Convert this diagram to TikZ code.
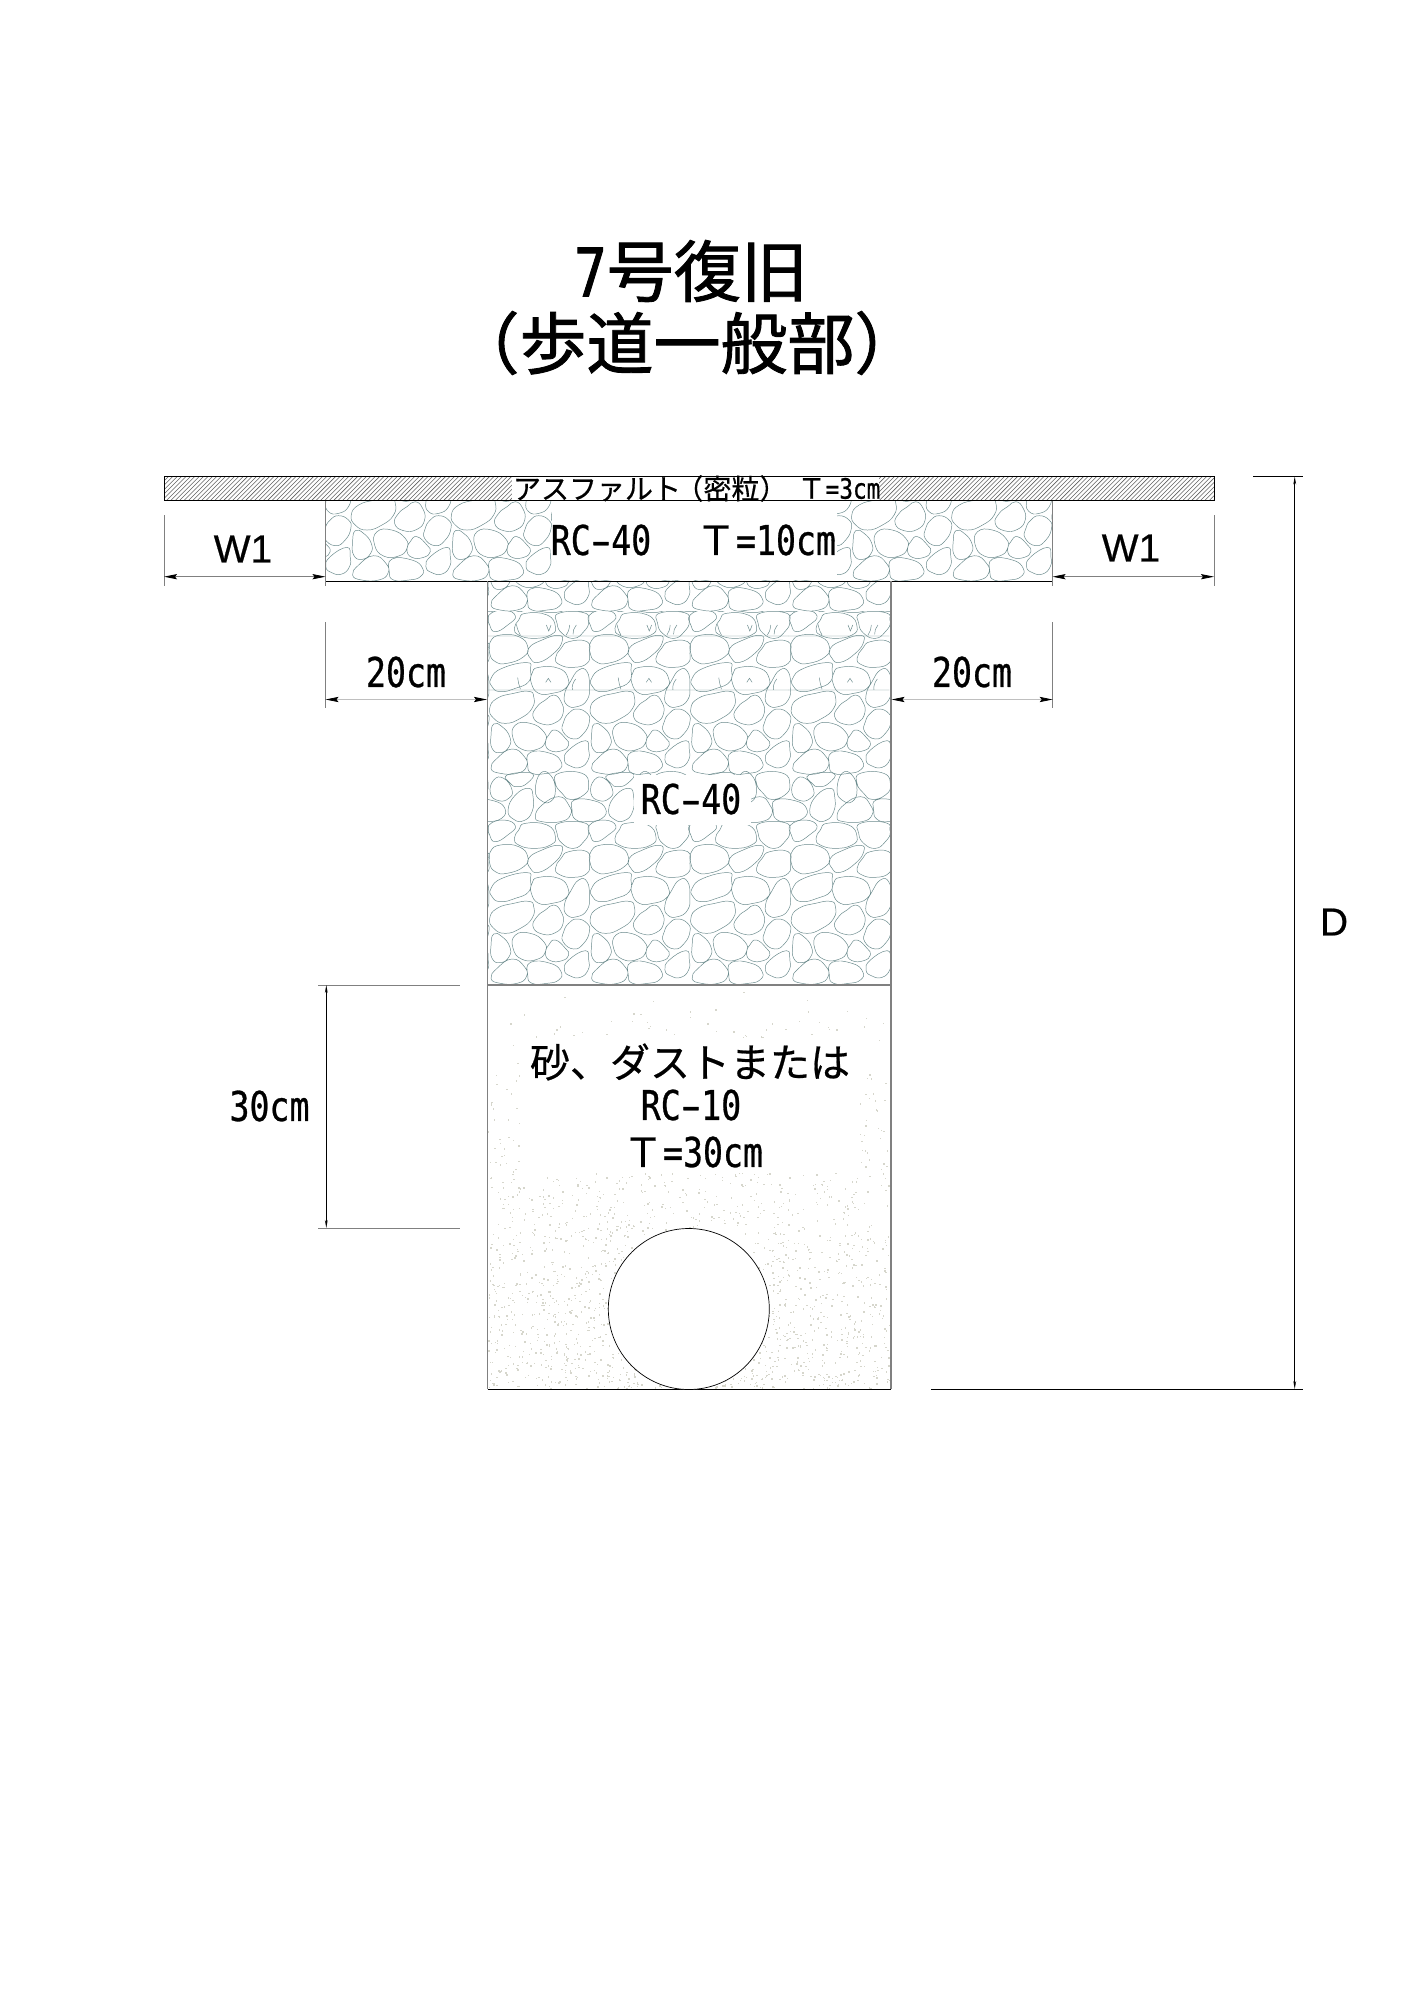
\documentclass[tikz,border=0pt]{standalone}
\usepackage{fontspec}
\usepackage{graphicx}
\usetikzlibrary{arrows.meta}
\setmainfont[FakeBold=0.5]{Noto Sans CJK JP}
\newfontfamily\jpfont[FakeBold=0.5]{Noto Sans CJK JP}
\newfontfamily\titlefont[FakeBold=1.3]{Noto Sans CJK JP}
\newfontfamily\latfont[FakeStretch=0.81,FakeBold=0.7]{DejaVu Sans Mono}
\newfontfamily\titlelat[FakeStretch=0.81,FakeBold=1.3]{DejaVu Sans Mono}
\newfontfamily\arialfont[FakeBold=0.5]{Liberation Sans}
\definecolor{rockcol}{HTML}{6A8A8C}
\definecolor{dimgray}{HTML}{808080}
\definecolor{sandcol}{HTML}{D6D6CC}
% text helpers: sizes in pt, 1 reference pixel = 0.5pt
\newcommand\sizeL{\fontsize{20.5}{24}\selectfont}
\newcommand\hy{\makebox[0.5em][c]{\scalebox{1.75}[1]{-}}}
\newcommand\rc[1]{{\latfont\sizeL RC\hy #1}}
\newcommand\fullT{{\jpfont\fontsize{20}{24}\selectfont Ｔ}}
\newcommand\rocktile{%
 \draw[rockline]
 plot[smooth cycle] coordinates {(20,492)(45,500)(68,530)(66,560)(40,578)(15,565)(12,525)}
 plot[smooth cycle] coordinates {(85,495)(130,490)(170,515)(175,545)(150,568)(105,568)(78,535)}
 plot[smooth cycle] coordinates {(205,510)(235,535)(245,555)(225,572)(190,572)(175,550)(185,525)}
 plot[smooth cycle] coordinates {(295,542)(305,570)(303,600)(280,622)(250,618)(232,600)(245,570)}
 plot[smooth cycle] coordinates {(75,567)(112,590)(118,620)(90,640)(40,640)(12,625)(30,595)}
 plot[smooth cycle] coordinates {(130,577)(190,580)(222,605)(215,630)(180,640)(135,640)(122,615)};
 \draw[rockline]
 plot[smooth cycle] coordinates {(125,394)(140,410)(135,445)(100,475)(55,490)(20,475)(8,445)(30,415)(80,400)}
 plot[smooth cycle] coordinates {(200,405)(222,425)(228,460)(205,488)(165,492)(138,470)(150,440)(175,420)}
 plot[smooth cycle] coordinates {(270,447)(300,460)(307,485)(290,520)(260,537)(228,515)(230,485)(245,460)}
 plot[smooth cycle] coordinates {(120,308)(130,330)(125,365)(85,385)(40,395)(15,380)(12,355)(45,325)}
 plot[smooth cycle] coordinates {(155,322)(215,325)(243,355)(235,385)(195,400)(155,400)(133,370)(135,340)}
 plot[smooth cycle] coordinates {(275,330)(300,335)(307,380)(300,420)(270,440)(240,435)(232,405)(250,365)};
 \draw[rockline]
 plot[smooth cycle] coordinates {(40,225)(95,230)(122,260)(110,290)(60,310)(25,305)(8,280)(10,245)}
 plot[smooth cycle] coordinates {(215,226)(225,245)(200,280)(155,307)(130,295)(125,265)(165,240)}
 plot[smooth cycle] coordinates {(245,245)(300,245)(307,280)(300,310)(260,322)(220,315)(205,295)(222,265)}
 plot[smooth cycle] coordinates {(50,150)(85,168)(62,195)(25,215)(8,195)(6,165)}
 plot[smooth cycle] coordinates {(115,160)(180,165)(205,200)(190,225)(140,235)(95,225)(82,205)(95,180)}
 plot[smooth cycle] coordinates {(215,160)(290,158)(305,185)(290,215)(260,235)(225,220)(210,190)};
 \draw[rockline]
 plot[smooth cycle] coordinates {(215,80)(245,105)(250,135)(220,155)(165,155)(145,140)(165,105)}
 plot[smooth cycle] coordinates {(262,90)(320,92)(355,115)(345,145)(300,155)(265,148)(255,120)}
 plot[smooth cycle] coordinates {(125,55)(138,80)(135,125)(110,152)(80,148)(63,120)(85,75)}
 plot[smooth cycle] coordinates {(20,30)(50,25)(75,60)(65,85)(35,92)(10,70)}
 plot[smooth cycle] coordinates {(160,10)(190,15)(205,60)(190,95)(160,90)(145,60)}
 plot[smooth cycle] coordinates {(215,10)(285,10)(305,45)(290,75)(250,88)(225,70)(205,40)}
 plot[smooth cycle] coordinates {(60,15)(135,10)(120,40)(90,50)(70,40)};}
\newcommand\tilerow[4]{% x origin, y origin, period, last index
 \foreach \tc in {0,...,#4}{%
  \pgfmathsetmacro\tx{#1+\tc*#3}%
  \begin{scope}[shift={(\tx,#2)},x=0.16667pt,y=-0.16667pt]\rocktile\end{scope}}}
\tikzset{
 rockline/.style={draw=rockcol,line width=0.24pt,tension=0.85},
 edgeline/.style={draw=black,line width=0.45pt},
 sideline/.style={draw=dimgray,line width=0.65pt},
 dimline/.style={draw=dimgray,line width=0.4pt,{Stealth[length=6.5pt,width=2.6pt,inset=1pt,black]}-{Stealth[length=6.5pt,width=2.6pt,inset=1pt,black]}},
 dimlight/.style={dimline,draw=lightgray},
 vdim/.style={draw=black,line width=0.45pt,{Stealth[length=4pt,width=1.4pt,black]}-{Stealth[length=4pt,width=1.4pt,black]}},
 extline/.style={draw=dimgray,line width=0.4pt},
 extdark/.style={draw=black,line width=0.45pt},
 mask/.style={fill=white,draw=none},
 lbl/.style={inner sep=0pt,outer sep=0pt,text=black},
}
\begin{document}
\begin{tikzpicture}[x=0.5pt,y=-0.5pt]
\useasboundingbox[fill=white] (0,0) rectangle (1414,2000);
% sand layer dots
\pgfmathsetseed{7}
\begin{scope}
 \clip (488,986) rectangle (890,1388);
 \foreach \i in {1,...,2300}{
   \pgfmathsetmacro\sx{488+402*rnd}\pgfmathsetmacro\sy{986+402*sqrt(rnd)}
   \fill[sandcol] (\sx,\sy) rectangle +(1.4,1.4);
 }
\end{scope}
% rock fill, lower column
\begin{scope}
 \clip (488,581) rectangle (891,611);
 \tilerow{386.5}{396.7}{100.55}{5}
\end{scope}
\begin{scope}
 \clip (488,611) rectangle (891,985);
 \tilerow{386.5}{560}{100.55}{5}
 \tilerow{386.5}{770}{100.55}{5}
\end{scope}
% seam lines in the upper part of the column
\begin{scope}
 \clip (488,611) rectangle (891,720);
 \foreach \tc in {0,...,3}{
  \pgfmathsetmacro\tx{487+\tc*100.55}
  \begin{scope}[shift={(\tx,575)},x=0.16667pt,y=-0.16667pt]
   \draw[rockline] (0,183)--(302,183) (0,345)--(302,345)
    (88,148) .. controls (92,165) and (95,172) .. (100,180)
    (178,150) .. controls (182,160) and (184,165) .. (185,168) .. controls (186,165) and (189,160) .. (192,150)
    (248,150) .. controls (246,165) and (244,172) .. (238,180)
    (268,150) .. controls (262,160) and (256,168) .. (258,178)
    (92,308) .. controls (94,322) and (96,332) .. (100,342)
    (176,322) .. controls (180,318) and (182,314) .. (184,310) .. controls (186,314) and (188,318) .. (192,322)
    (266,312) .. controls (258,322) and (254,334) .. (256,344);
  \end{scope}
 }
\end{scope}
% rock fill, upper layer
\begin{scope}
 \clip (326,500.5) rectangle (1052,581);
 \tilerow{248.5}{366.7}{100.1}{8}
\end{scope}
% masks behind labels
\fill[mask] (552,501) rectangle (837,580);
\fill[mask] (634,775) rectangle (751,825);
\fill[mask] (520,1038) rectangle (860,1173);
% asphalt hatch
\begin{scope}
 \clip (164.5,476.5) rectangle (1214,500.5);
 \foreach \hx in {164,168.4,...,1240}{
  \draw[draw=black!62,line width=0.28pt] (\hx-24,500.5) -- (\hx,476.5);
 }
\end{scope}
\fill[mask] (512,477) rectangle (879,500);
% layer outlines
\draw[edgeline] (164.5,476.5) rectangle (1214,500.5);
\draw[edgeline] (325.5,581) -- (1052.5,581);
\draw[sideline] (325.5,500.5) -- (325.5,581);
\draw[sideline] (1052.5,500.5) -- (1052.5,581);
\draw[sideline] (487.5,581) -- (487.5,1389);
\draw[sideline] (891,581) -- (891,1389);
\draw[sideline] (487.5,985) -- (891,985);
\draw[edgeline] (487.5,1389) -- (891,1389);
\node[circle,draw=black,fill=white,line width=0.35pt,minimum size=80.5pt,inner sep=0pt] (pipe) at (688.8,1309) {};
% dimension anchors
\coordinate (w1a) at (164,576.7); \coordinate (w1b) at (325.5,576.7);
\coordinate (w1c) at (1052.5,576.7); \coordinate (w1d) at (1214,576.7);
\coordinate (c20a) at (325.5,699.5); \coordinate (c20b) at (487,699.5);
\coordinate (c20c) at (891.5,699.5); \coordinate (c20d) at (1052.7,699.5);
\coordinate (c30a) at (326.3,985); \coordinate (c30b) at (326.3,1228);
\coordinate (dda) at (1294.7,476.5); \coordinate (ddb) at (1294.7,1389);
% extension lines
\draw[extline] (164,515) -- (164,586);
\draw[extline] (325.5,581) -- (325.5,586);
\draw[extline] (1214,515) -- (1214,586);
\draw[extline] (1052.5,581) -- (1052.5,586);
\draw[extline] (325.5,622) -- (325.5,708);
\draw[extline] (1052.7,622) -- (1052.7,708);
\draw[extline] (318,985) -- (460,985);
\draw[extline] (318,1228) -- (460,1228);
\draw[extdark] (1253,476.5) -- (1303,476.5);
\draw[extdark] (931,1389) -- (1303,1389);
% dimension lines
\draw[dimline] (w1a) -- (w1b);
\draw[dimline] (w1c) -- (w1d);
\draw[dimlight] (c20a) -- (c20b);
\draw[dimlight] (c20c) -- (c20d);
\draw[vdim] (c30a) -- (c30b);
\draw[vdim] (dda) -- (ddb);
% title
\node[lbl] (t1) at (691,271) {\titlefont\fontsize{33.5}{40}\selectfont {\titlelat\fontsize{33.5}{40}\selectfont 7}号復旧};
\node[lbl] (t2) at (687,343) {\titlefont\fontsize{33.5}{40}\selectfont （歩道一般部）};
% labels
\node[lbl,anchor=west] (asph) at (513,488.5) {\fontsize{14}{16}\selectfont アスファルト\hspace{-0.2em}（密粒）};
\node[lbl] (asphT) at (839,488.5) {{\fontsize{14}{16}\selectfont Ｔ}{\latfont\fontsize{14}{16}\selectfont =3cm}};
\node[lbl] (up40) at (601,540) {\rc{40}};
\node[lbl] (upT) at (766,540) {\fullT{\latfont\sizeL =10cm}};
\node[lbl] (mid40) at (691,799) {\rc{40}};
\node[lbl] (sand1) at (690,1062) {\fontsize{20}{24}\selectfont 砂、ダストまたは};
\node[lbl] (sand2) at (691,1105) {\rc{10}};
\node[lbl] (sand3) at (693,1152) {\fullT{\latfont\sizeL =30cm}};
\node[lbl] (d20a) at (406,672) {\latfont\sizeL 20cm};
\node[lbl] (d20b) at (972,672) {\latfont\sizeL 20cm};
\node[lbl] (d30) at (269.5,1106) {\latfont\sizeL 30cm};
\node[lbl] (w1l) at (243,549) {\arialfont\fontsize{19.5}{24}\selectfont W1};
\node[lbl] (w1r) at (1131,548) {\arialfont\fontsize{19.5}{24}\selectfont W1};
\node[lbl] (dd) at (1334,922) {\arialfont\fontsize{19.5}{24}\selectfont D};
\end{tikzpicture}
\end{document}
